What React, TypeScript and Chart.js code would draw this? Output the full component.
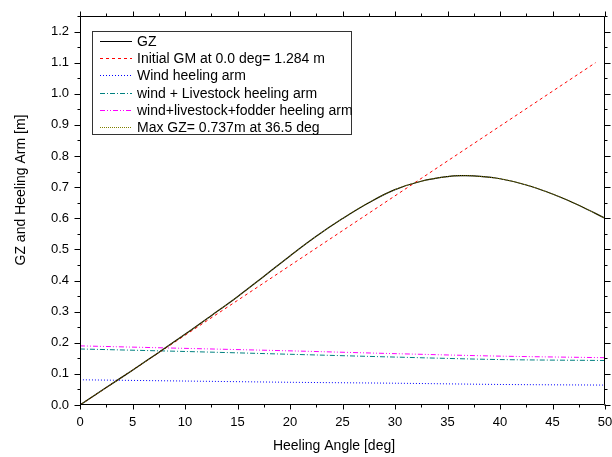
import React, { useEffect, useRef } from "react";
import { Chart, registerables } from "chart.js";

Chart.register(...registerables);

const FONT = "'Liberation Sans', Arial, sans-serif";

// Data
const gzAngles = [0, 2.5, 5, 7.5, 10, 12.5, 15, 17.5, 20, 22.5, 25, 27.5, 30, 32.5, 35, 36.5, 37.5, 40, 42.5, 45, 47.5, 50];
const gzValues = [0, 0.056, 0.112, 0.169, 0.227, 0.287, 0.348, 0.413, 0.479, 0.542, 0.599, 0.65, 0.692, 0.719, 0.734, 0.737, 0.736, 0.727, 0.707, 0.678, 0.642, 0.6];
const gmAngles = [0, 49.1];
const gmValues = [0, 1.1];
const armAngles = [0, 10, 20, 30, 40, 50];
const windArm = [0.081, 0.077, 0.073, 0.07, 0.066, 0.064];
const windLivestockArm = [0.18, 0.172, 0.163, 0.154, 0.146, 0.143];
const windLivestockFodderArm = [0.19, 0.182, 0.174, 0.165, 0.157, 0.152];
const xTickValues = [0, 5, 10, 15, 20, 25, 30, 35, 40, 45, 50];
const yTickValues = [0, 0.1, 0.2, 0.3, 0.4, 0.5, 0.6, 0.7, 0.8, 0.9, 1.0, 1.1, 1.2];
const legendLabels = [
  "GZ",
  "Initial GM at 0.0 deg= 1.284 m",
  "Wind heeling arm",
  "wind + Livestock heeling arm",
  "wind+livestock+fodder heeling arm",
  "Max GZ= 0.737m at 36.5 deg",
];
const xTitle = "Heeling Angle [deg]";
const yTitle = "GZ and Heeling Arm [m]";

const pts = (xs: number[], ys: number[]) => xs.map((x, i) => ({ x, y: ys[i] }));

const framePlugin = {
  id: "frameTicks",
  afterDraw(chart: any) {
    const { ctx, chartArea: a, scales } = chart;
    const xs = scales.x;
    const ys = scales.y;
    ctx.save();
    ctx.strokeStyle = "#000";
    ctx.lineWidth = 1;
    const L = Math.round(a.left) + 0.5;
    const R = Math.round(a.right) - 0.5;
    const T = Math.round(a.top) + 0.5;
    const B = Math.round(a.bottom) - 0.5;
    ctx.beginPath();
    ctx.rect(L, T, R - L, B - T);
    ctx.stroke();
    ctx.beginPath();
    for (let v = 0; v <= 50.001; v += 2.5) {
      const major = Math.abs(v / 5 - Math.round(v / 5)) < 1e-6;
      const len = major ? 5 : 3;
      const px = Math.round(xs.getPixelForValue(v)) + 0.5;
      ctx.moveTo(px, B);
      ctx.lineTo(px, B + len);
      ctx.moveTo(px, T);
      ctx.lineTo(px, T - len);
    }
    for (let i = 0; i <= 25; i++) {
      const v = i * 0.05;
      const major = i % 2 === 0 && i <= 24;
      const len = major ? 6 : 3;
      const py = Math.round(ys.getPixelForValue(v)) + 0.5;
      ctx.moveTo(L, py);
      ctx.lineTo(L - len, py);
      ctx.moveTo(R, py);
      ctx.lineTo(R + len, py);
    }
    ctx.stroke();

    ctx.fillStyle = "#000";
    ctx.font = `14px ${FONT}`;
    ctx.textAlign = "center";
    ctx.textBaseline = "alphabetic";
    ctx.fillText(xTitle, 334, 450);
    ctx.translate(24.5, 190);
    ctx.rotate(-Math.PI / 2);
    ctx.fillText(yTitle, 0, 0);
    ctx.restore();
  },
};

const legendPlugin = {
  id: "boxLegend",
  afterDatasetsDraw(chart: any) {
    const { ctx } = chart;
    const ds = chart.data.datasets;
    ctx.save();
    ctx.fillStyle = "#fff";
    ctx.fillRect(92.5, 31.5, 259, 103);
    ctx.strokeStyle = "#333";
    ctx.lineWidth = 1;
    ctx.strokeRect(92.5, 31.5, 259, 103);
    ctx.font = `14px ${FONT}`;
    ctx.textAlign = "left";
    ctx.textBaseline = "middle";
    for (let i = 0; i < legendLabels.length; i++) {
      const d = ds[i];
      const yy = Math.round(41 + i * 17.2) + 0.5;
      ctx.beginPath();
      ctx.setLineDash(d.borderDash || []);
      ctx.strokeStyle = d.borderColor;
      ctx.lineWidth = 1;
      ctx.moveTo(100, yy);
      ctx.lineTo(132, yy);
      ctx.stroke();
      ctx.setLineDash([]);
      ctx.fillStyle = "#000";
      ctx.fillText(legendLabels[i], 137, yy + 0.5);
    }
    ctx.restore();
  },
};

export default function App() {
  const ref = useRef<HTMLCanvasElement | null>(null);
  useEffect(() => {
    if (!ref.current) return;
    const chart = new Chart(ref.current, {
      type: "line",
      data: {
        datasets: [
          {
            label: legendLabels[0],
            data: pts(gzAngles, gzValues),
            borderColor: "#000000",
            borderWidth: 1.2,
            pointRadius: 0,
            tension: 0.4,
            order: 1,
          },
          {
            label: legendLabels[1],
            data: pts(gmAngles, gmValues),
            borderColor: "#ff0000",
            borderWidth: 1,
            borderDash: [3, 3],
            pointRadius: 0,
            order: 1,
          },
          {
            label: legendLabels[2],
            data: pts(armAngles, windArm),
            borderColor: "#0000ff",
            borderWidth: 1,
            borderDash: [1, 2],
            pointRadius: 0,
            tension: 0.3,
            order: 1,
          },
          {
            label: legendLabels[3],
            data: pts(armAngles, windLivestockArm),
            borderColor: "#008080",
            borderWidth: 1,
            borderDash: [5, 2, 1, 2],
            pointRadius: 0,
            tension: 0.3,
            order: 1,
          },
          {
            label: legendLabels[4],
            data: pts(armAngles, windLivestockFodderArm),
            borderColor: "#ff00ff",
            borderWidth: 1,
            borderDash: [5, 2, 1, 2, 1, 2],
            pointRadius: 0,
            tension: 0.3,
            order: 1,
          },
          {
            label: legendLabels[5],
            data: pts(gzAngles, gzValues),
            borderColor: "#808000",
            borderWidth: 1,
            borderDash: [1, 1],
            pointRadius: 0,
            tension: 0.4,
            order: 0,
          },
        ],
      },
      options: {
        animation: false,
        responsive: false,
        maintainAspectRatio: false,
        events: [],
        layout: { padding: { top: 16, right: 7, left: 0, bottom: 0 } },
        plugins: {
          legend: { display: false },
          tooltip: { enabled: false },
        },
        scales: {
          x: {
            type: "linear",
            min: 0,
            max: 50,
            afterFit: (s: any) => {
              s.height = 52;
              s.paddingLeft = 0;
              s.paddingRight = 0;
            },
            afterBuildTicks: (s: any) => {
              s.ticks = xTickValues.map((v) => ({ value: v }));
            },
            ticks: {
              font: { family: FONT, size: 13 },
              color: "#000",
              padding: 10,
              maxRotation: 0,
              autoSkip: false,
              callback: (v: any) => String(v),
            },
            grid: { display: false, drawTicks: false },
            border: { display: false },
          },
          y: {
            type: "linear",
            min: 0,
            max: 1.25,
            afterFit: (s: any) => {
              s.width = 80;
              s.paddingTop = 0;
              s.paddingBottom = 0;
            },
            afterBuildTicks: (s: any) => {
              s.ticks = yTickValues.map((v) => ({ value: v }));
            },
            ticks: {
              font: { family: FONT, size: 13 },
              color: "#000",
              padding: 11,
              autoSkip: false,
              callback: (v: any) => Number(v).toFixed(1),
            },
            grid: { display: false, drawTicks: false },
            border: { display: false },
          },
        },
      },
      plugins: [framePlugin, legendPlugin],
    });
    return () => chart.destroy();
  }, []);
  return (
    <div style={{ position: "fixed", left: 0, top: 0, width: 612, height: 457, background: "#fff" }}>
      <canvas ref={ref} width={612} height={457} style={{ width: 612, height: 457, display: "block" }} />
    </div>
  );
}
